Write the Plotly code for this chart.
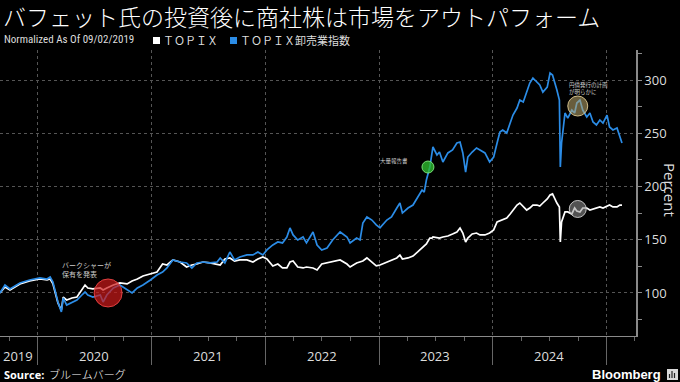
import plotly.graph_objects as go

# ---------------- data ----------------
dates = [
    "2019-09-02", "2019-09-18", "2019-10-04", "2019-10-21", "2019-11-05", "2019-12-06", "2020-01-08", "2020-01-31", "2020-02-10", "2020-02-19",
    "2020-02-26", "2020-03-06", "2020-03-17", "2020-03-23", "2020-04-03", "2020-04-20", "2020-05-06", "2020-05-22", "2020-06-01", "2020-06-10",
    "2020-06-26", "2020-07-20", "2020-07-29", "2020-08-10", "2020-08-31", "2020-09-21", "2020-10-14", "2020-10-30", "2020-11-16", "2020-12-04",
    "2020-12-28", "2021-01-18", "2021-02-05", "2021-02-19", "2021-03-10", "2021-04-02", "2021-04-23", "2021-05-10", "2021-05-26", "2021-06-15",
    "2021-07-07", "2021-07-30", "2021-08-09", "2021-08-24", "2021-09-09", "2021-09-24", "2021-10-11", "2021-11-03", "2021-11-22", "2021-12-08",
    "2021-12-24", "2022-01-06", "2022-01-25", "2022-02-10", "2022-02-25", "2022-03-11", "2022-03-21", "2022-03-31", "2022-04-15", "2022-05-02",
    "2022-05-13", "2022-06-03", "2022-06-16", "2022-07-01", "2022-07-18", "2022-08-05", "2022-08-29", "2022-09-20", "2022-09-30", "2022-10-21",
    "2022-11-01", "2022-11-10", "2022-11-23", "2022-12-09", "2022-12-23", "2023-01-04", "2023-01-26", "2023-02-10", "2023-02-27", "2023-03-09",
    "2023-03-17", "2023-04-04", "2023-04-20", "2023-05-05", "2023-05-19", "2023-05-26", "2023-06-02", "2023-06-13", "2023-06-20", "2023-06-23",
    "2023-07-06", "2023-07-14", "2023-07-25", "2023-08-10", "2023-08-25", "2023-09-08", "2023-09-18", "2023-09-27", "2023-10-06", "2023-10-13",
    "2023-10-27", "2023-11-10", "2023-11-21", "2023-12-07", "2023-12-22", "2024-01-04", "2024-01-15", "2024-01-24", "2024-02-02", "2024-02-15",
    "2024-02-26", "2024-03-06", "2024-03-19", "2024-03-28", "2024-04-08", "2024-04-19", "2024-04-29", "2024-05-09", "2024-05-22", "2024-05-31",
    "2024-06-10", "2024-06-24", "2024-07-03", "2024-07-11", "2024-07-25", "2024-08-02", "2024-08-05", "2024-08-09", "2024-08-20", "2024-08-29",
    "2024-09-11", "2024-09-20", "2024-09-27", "2024-10-07", "2024-10-16", "2024-10-29", "2024-11-08", "2024-11-18", "2024-11-29", "2024-12-10",
    "2024-12-20", "2025-01-02", "2025-01-10", "2025-01-21", "2025-02-03", "2025-02-12", "2025-02-19",
]

topix_wholesale = [
    100.0, 107.5, 103.8, 106.6, 109.4, 112.2, 114.1, 113.1, 115.0, 110.3,
    100.9, 91.5, 82.2, 95.3, 88.7, 91.5, 93.4, 98.1, 100.9, 98.1,
    96.2, 98.1, 91.5, 98.1, 104.7, 107.5, 102.8, 100.0, 104.7, 107.5,
    112.2, 116.9, 119.7, 123.5, 131.0, 129.1, 128.2, 123.5, 128.2, 129.1,
    128.2, 129.1, 132.9, 128.2, 138.5, 131.0, 133.8, 135.7, 135.7, 138.5,
    135.7, 140.4, 145.1, 147.9, 147.0, 152.6, 161.1, 154.5, 149.8, 152.6,
    147.0, 157.3, 145.1, 140.4, 142.3, 149.8, 157.3, 152.6, 147.0, 151.6,
    149.8, 165.7, 171.4, 168.5, 163.9, 161.1, 168.5, 171.4, 179.8, 184.5,
    175.1, 179.8, 182.6, 190.1, 196.7, 194.8, 206.1, 218.3, 231.5, 237.1,
    229.6, 232.4, 223.0, 231.5, 234.3, 240.9, 241.8, 231.5, 213.6, 227.7,
    232.4, 236.2, 234.3, 231.5, 223.0, 227.7, 240.9, 251.2, 253.1, 250.2,
    259.6, 267.1, 273.7, 281.2, 279.3, 288.7, 297.2, 301.9, 298.1, 295.3,
    288.7, 293.4, 306.6, 304.7, 290.6, 281.2, 218.3, 240.9, 269.0, 264.3,
    271.8, 269.0, 278.4, 281.2, 271.8, 265.3, 269.0, 260.6, 257.8, 262.5,
    259.6, 267.1, 255.9, 253.1, 254.9, 246.5, 240.9,
]

topix = [
    100.0, 105.6, 102.8, 105.6, 108.5, 111.3, 113.1, 112.2, 113.1, 108.5,
    100.0, 90.6, 84.0, 96.2, 93.4, 95.3, 96.2, 102.8, 107.5, 104.7,
    103.8, 104.7, 102.8, 104.7, 107.5, 109.4, 108.5, 111.3, 113.1, 116.0,
    117.8, 119.7, 127.2, 126.3, 131.0, 129.1, 124.4, 126.3, 127.2, 129.1,
    128.2, 127.2, 126.3, 131.9, 132.9, 130.0, 131.0, 131.0, 129.1, 131.9,
    133.8, 131.9, 125.4, 127.2, 123.5, 123.5, 129.1, 130.0, 124.4, 123.5,
    124.4, 123.5, 121.6, 127.2, 128.2, 129.1, 131.0, 127.2, 124.4, 128.2,
    129.1, 130.0, 132.9, 129.1, 125.4, 126.3, 129.1, 131.0, 132.9, 135.7,
    131.9, 132.9, 134.7, 138.5, 142.3, 144.1, 146.0, 151.6, 151.6, 152.6,
    151.6, 151.6, 152.6, 153.5, 155.4, 157.3, 161.0, 156.3, 147.9, 151.6,
    155.4, 156.3, 154.5, 154.5, 156.3, 159.2, 166.7, 167.6, 168.5, 170.4,
    174.2, 177.9, 182.6, 184.5, 180.8, 177.9, 179.8, 182.6, 182.6, 181.7,
    184.5, 188.3, 192.0, 193.0, 184.5, 180.8, 147.9, 166.7, 176.1, 176.1,
    174.2, 179.8, 177.0, 176.1, 179.8, 179.8, 177.9, 178.9, 179.8, 180.8,
    179.8, 181.7, 182.6, 180.8, 180.8, 182.6, 182.6,
]

series_names = ["ＴＯＰＩＸ", "ＴＯＰＩＸ卸売業指数"]

event_dates = ["2020-08-14", "2023-06-07", "2024-09-30", "2024-09-30"]
event_values = [100.0, 218.3, 275.6, 178.9]
event_texts = ["バークシャーが<br>保有を発表", "大量報告書", "円債発行の計画<br>が明らかに"]

year_labels = ["2019", "2020", "2021", "2022", "2023", "2024"]
year_boundaries = ["2020-01-01", "2021-01-01", "2022-01-01", "2023-01-01", "2024-01-01", "2025-01-01"]
y_ticks = [100, 150, 200, 250, 300]

# ---------------- layout geometry ----------------
W, H = 680, 382
ML, MR, MT, MB = 0, 44, 50, 46
PW, PH = W - ML - MR, H - MT - MB


def px_x(x):
    return (x - ML) / PW


def px_y(y):
    return (H - MB - y) / PH


BLUE = "#2b8ce6"
AXC = "#8a8a8a"
TXT = "#dddddd"
JP = "Noto Sans CJK JP"
SANS = "Open Sans, DejaVu Sans, sans-serif"

fig = go.Figure()

fig.add_trace(go.Scatter(x=dates, y=topix, mode="lines", name=series_names[0],
                         line=dict(color="#ffffff", width=1.7), hoverinfo="skip"))
fig.add_trace(go.Scatter(x=dates, y=topix_wholesale, mode="lines", name=series_names[1],
                         line=dict(color=BLUE, width=1.7), hoverinfo="skip"))

# event circles
ev_fill = ["rgba(205,25,25,0.70)", "rgba(45,185,45,0.80)", "rgba(190,170,110,0.55)", "rgba(150,150,150,0.55)"]
ev_line = ["rgba(235,70,70,0.9)", "rgba(130,235,130,0.9)", "rgba(225,205,150,0.9)", "rgba(210,210,210,0.9)"]
ev_size = [28, 12, 20, 17]
for d, v, f, lc, s in zip(event_dates, event_values, ev_fill, ev_line, ev_size):
    fig.add_trace(go.Scatter(x=[d], y=[v], mode="markers", hoverinfo="skip",
                             marker=dict(size=s, color=f, line=dict(color=lc, width=1))))

annotations = []
# title
annotations.append(dict(xref="paper", yref="paper", x=px_x(1), y=px_y(16), xanchor="left", yanchor="middle",
                        text="バフェット氏の投資後に商社株は市場をアウトパフォーム", showarrow=False,
                        font=dict(family=JP, size=23, color="#ffffff", weight=300)))
# subtitle + legend
annotations.append(dict(xref="paper", yref="paper", x=px_x(2), y=px_y(40), xanchor="left", yanchor="middle",
                        text="Normalized As Of 09/02/2019", showarrow=False,
                        font=dict(family="Liberation Sans Narrow, Roboto Condensed, DejaVu Sans Condensed, sans-serif", size=11, color=TXT)))
annotations.append(dict(xref="paper", yref="paper", x=px_x(161), y=px_y(40), xanchor="left", yanchor="middle",
                        text=series_names[0], showarrow=False, font=dict(family=JP, size=11, color=TXT)))
annotations.append(dict(xref="paper", yref="paper", x=px_x(238), y=px_y(40), xanchor="left", yanchor="middle",
                        text=series_names[1], showarrow=False, font=dict(family=JP, size=11, color=TXT)))
# event texts
annotations.append(dict(x="2020-03-13", y=121.6, xanchor="left", yanchor="middle", text=event_texts[0],
                        showarrow=False, align="left", font=dict(family=JP, size=7, color="#cccccc")))
annotations.append(dict(x="2022-12-28", y=224.0, xanchor="left", yanchor="middle", text=event_texts[1],
                        showarrow=False, align="left", font=dict(family=JP, size=5.5, color="#cccccc")))
annotations.append(dict(x="2024-08-26", y=292.5, xanchor="left", yanchor="middle", text=event_texts[2],
                        showarrow=False, align="left", font=dict(family=JP, size=5.5, color="#cccccc")))
# year labels (centered within each visible year)
year_mid = ["2019-10-31", "2020-07-01", "2021-07-01", "2022-07-01", "2023-07-01", "2024-07-01"]
for lab, xm in zip(year_labels, year_mid):
    annotations.append(dict(x=xm, xref="x", yref="paper", y=px_y(356), xanchor="center", yanchor="middle",
                            text=lab, showarrow=False, font=dict(family=SANS, size=13, color=TXT)))
# y axis title
annotations.append(dict(xref="paper", yref="paper", x=px_x(670), y=px_y(190), xanchor="center", yanchor="middle",
                        text="Percent", textangle=90, showarrow=False, font=dict(family=SANS, size=15, color=TXT)))
# source / brand
annotations.append(dict(xref="paper", yref="paper", x=px_x(2), y=px_y(374), xanchor="left", yanchor="middle",
                        text="<b>Source:</b>", showarrow=False, font=dict(family=SANS, size=11, color="#ffffff")))
annotations.append(dict(xref="paper", yref="paper", x=px_x(47), y=px_y(374), xanchor="left", yanchor="middle",
                        text="ブルームバーグ", showarrow=False, font=dict(family=JP, size=11, color="#ffffff", weight=300)))
annotations.append(dict(xref="paper", yref="paper", x=px_x(663), y=px_y(374), xanchor="right", yanchor="middle",
                        text="<b>Bloomberg</b>", showarrow=False, font=dict(family="Liberation Sans, Arial, sans-serif", size=13, color="#ffffff")))

shapes = [
    dict(type="rect", xref="paper", yref="paper", x0=px_x(153), x1=px_x(160), y0=px_y(44), y1=px_y(37),
         fillcolor="#ffffff", line=dict(width=0)),
    dict(type="rect", xref="paper", yref="paper", x0=px_x(230), x1=px_x(237), y0=px_y(44), y1=px_y(37),
         fillcolor=BLUE, line=dict(width=0)),
    dict(type="rect", xref="paper", yref="paper", x0=px_x(667), x1=px_x(678), y0=px_y(380), y1=px_y(369),
         fillcolor="#d8d8d8", line=dict(width=0)),
]
for bx, bh in [(669.5, 4), (672, 7), (674.5, 5)]:
    shapes.append(dict(type="line", xref="paper", yref="paper", x0=px_x(bx), x1=px_x(bx), y0=px_y(378), y1=px_y(378 - bh),
                       line=dict(color="#222222", width=1.2)))

fig.update_layout(
    width=W, height=H,
    margin=dict(l=ML, r=MR, t=MT, b=MB, pad=0),
    paper_bgcolor="#000000", plot_bgcolor="#000000",
    showlegend=False,
    annotations=annotations,
    shapes=shapes,
    xaxis=dict(
        type="date", range=["2019-09-02", "2025-04-05"],
        tickvals=year_boundaries, showticklabels=False,
        ticks="outside", ticklen=28, tickwidth=1, tickcolor="#666666",
        showgrid=True, gridcolor="#555555", griddash="dot", gridwidth=1,
        showline=True, linecolor=AXC, linewidth=1,
        zeroline=False,
        minor=dict(dtick="M3", tick0="2020-01-01", ticks="outside", ticklen=4, tickcolor="#666666", showgrid=False),
    ),
    yaxis=dict(
        side="right", range=[59.6, 328.2],
        tickvals=y_ticks, ticks="outside", ticklen=4, tickcolor=AXC,
        tickfont=dict(family=SANS, size=13, color=TXT),
        showgrid=True, gridcolor="#555555", griddash="dot", gridwidth=1,
        showline=True, linecolor=AXC, linewidth=1.5,
        zeroline=False,
        minor=dict(dtick=25, tick0=0, ticks="outside", ticklen=4, tickcolor=AXC, showgrid=False),
    ),
)

fig.write_html("out.html", config={"displayModeBar": False},
               post_script="document.body.style.margin='0';document.body.style.background='#000';")
